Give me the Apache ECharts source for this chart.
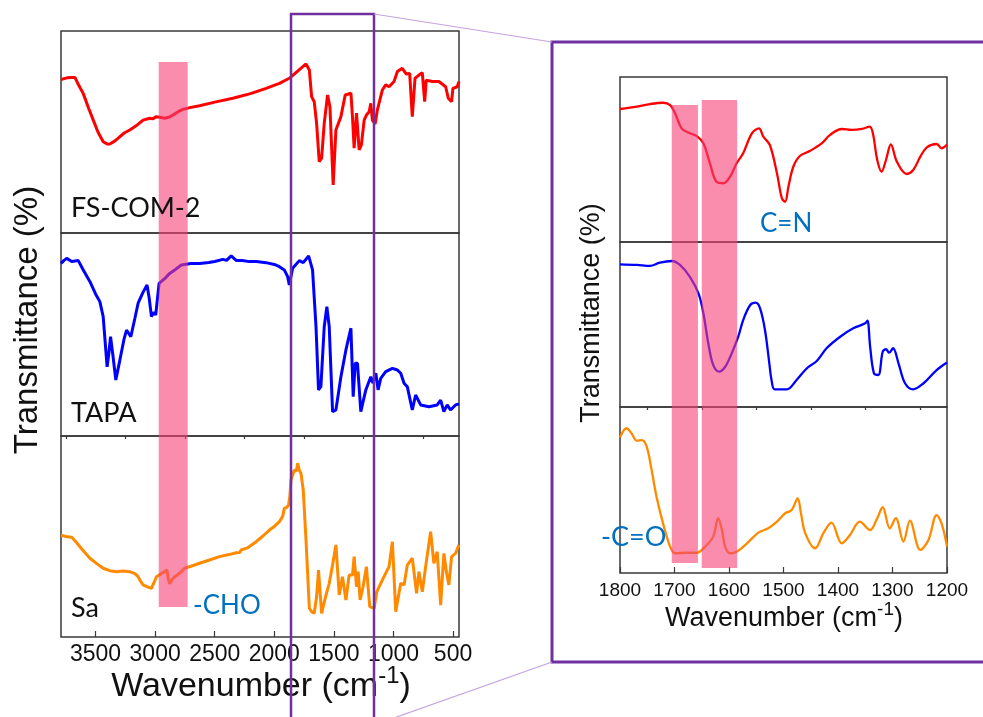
<!DOCTYPE html>
<html>
<head>
<meta charset="utf-8">
<script src="https://cdn.jsdelivr.net/npm/echarts@6/dist/echarts.min.js"></script>
<style>
html, body { margin: 0; padding: 0; background: #fff; }
#chart { width: 983px; height: 717px; }
</style>
</head>
<body>
<div id="chart"></div>
<script>
// FTIR spectra: [wavenumber (cm-1), relative transmittance] per sample
const fsCom2Full = [[3790,76],[3740,76.8],[3700,77],[3673,77],[3640,73],[3603,69],[3560,62],[3520,56],[3480,50],[3436,45.2],[3400,44],[3380,44.1],[3340,45.5],[3310,47],[3260,49.5],[3213,51],[3150,53.5],[3101,55.9],[3045,56.8],[3020,56.5],[2989,57.6],[2950,57.2],[2920,56.8],[2880,57.4],[2850,58.4],[2800,60.3],[2767,61.2],[2700,62.2],[2627,63],[2500,64.8],[2348,66.7],[2200,69],[2069,71.6],[1957,74.1],[1874,76.6],[1734,83.7],[1706,80.7],[1687,67.5],[1665,65],[1645,54.3],[1623,35.3],[1603,37],[1581,54.3],[1553,68.3],[1533,62.5],[1506,23.8],[1483,51],[1441,57.6],[1405,68.3],[1357,69.2],[1344,57.6],[1330,42],[1310,59.3],[1288,41.1],[1269,43.6],[1246,55.9],[1227,58.4],[1204,60],[1190,64.2],[1177,55.9],[1154,54],[1135,60.9],[1093,70.8],[1065,73.3],[1037,72.4],[995,75],[967,79.9],[926,81.5],[892,78.7],[864,79],[842,57.6],[819,76.6],[786,78.2],[758,79.4],[738,65],[725,75.7],[675,75],[619,75],[562,72.4],[540,66.7],[512,65],[501,71.6],[465,72.4],[450,75]];

const tapaFull = [[3790,85],[3765,86.5],[3742,87.5],[3700,86],[3645,86.4],[3603,81.8],[3547,76],[3500,70],[3464,66.2],[3436,58.8],[3403,34.1],[3390,40],[3374,48.9],[3355,40],[3330,27.6],[3296,37.4],[3260,48],[3240,52.2],[3204,48.9],[3170,58],[3143,65.4],[3100,71],[3068,74.4],[3050,68],[3031,58.8],[3010,61],[2995,59.6],[2980,68],[2967,75.2],[2920,77.5],[2878,80.1],[2830,82],[2780,84.2],[2700,85],[2627,85],[2550,85.5],[2500,86],[2432,87],[2400,86.5],[2362,88.7],[2320,86.5],[2270,86.5],[2208,85.9],[2150,86],[2069,85.4],[2000,84.5],[1957,83.4],[1916,81.8],[1888,78.5],[1874,74.4],[1846,82.6],[1790,86.4],[1757,85.4],[1712,88.7],[1679,81.8],[1650,53.8],[1629,22.7],[1609,24.3],[1581,53.8],[1559,63.7],[1539,53.8],[1511,12],[1483,12.8],[1441,29.2],[1399,42.4],[1357,53.1],[1338,19.4],[1321,35.8],[1302,35.8],[1274,12],[1232,22.7],[1190,29.2],[1171,26],[1148,30.9],[1129,22.7],[1107,28.4],[1065,31.7],[1009,33.3],[967,32.5],[939,30.9],[911,26],[884,24.3],[842,12.8],[814,20.2],[772,15.3],[702,14.4],[633,15.3],[604,17.7],[577,12],[549,15.3],[521,12.8],[479,15.3],[450,15.8]];

const saFull = [[3790,50.7],[3750,50],[3700,49.6],[3660,47],[3631,44.9],[3590,42],[3547,39.2],[3490,36.5],[3436,34.2],[3380,33],[3324,32.5],[3270,32.8],[3213,32.5],[3170,31.5],[3143,30],[3120,27.5],[3101,25.9],[3060,24.8],[3031,24.2],[3010,27],[2989,30],[2950,31.5],[2920,32.5],[2901,33.3],[2890,29],[2878,26.4],[2860,28.5],[2836,30],[2810,31],[2780,32.5],[2752,34.2],[2700,35.2],[2627,36.7],[2550,38.2],[2460,40],[2380,41],[2320,41.9],[2290,42],[2278,43.3],[2220,44.5],[2152,47.4],[2100,50],[2041,53.2],[2000,55],[1957,57.4],[1930,60],[1916,64],[1895,64.5],[1880,65.7],[1870,70],[1860,78.1],[1832,83.1],[1815,82.5],[1804,86.4],[1790,83],[1776,81.4],[1757,73.1],[1734,48.3],[1706,14.3],[1685,12.5],[1665,11.8],[1645,20],[1629,33.3],[1603,11.8],[1570,20],[1539,26.7],[1511,35.8],[1483,45.8],[1455,20.9],[1428,30],[1399,18.4],[1372,30.8],[1344,30.8],[1330,40],[1310,25],[1296,32.5],[1280,18.4],[1255,25],[1227,35],[1199,15.1],[1162,14.3],[1140,22.5],[1093,28.4],[1037,35],[1009,47.4],[981,12.6],[939,26.7],[911,25.9],[884,35.8],[842,39.2],[828,32.5],[806,21.7],[786,32.5],[758,22.5],[730,35],[688,52.4],[661,36.7],[633,42.4],[604,15.9],[577,41.6],[554,31.7],[535,25.9],[512,40],[479,41.6],[450,45.8]];

// Expanded 1800-1200 cm-1 region
const fsCom2Zoom = [[1800,80.6],[1769,82],[1745,83.6],[1721,84.4],[1708,83],[1699,78],[1687,68.9],[1672,65.9],[1659,64.2],[1647,59.8],[1635,47.7],[1623,36.5],[1610,35.6],[1598,39.6],[1586,47.7],[1574,53.8],[1558,65.9],[1545,68.9],[1537,63.8],[1525,58.8],[1512,41.6],[1503,26.5],[1497,24.4],[1491,33.5],[1482,45.6],[1470,52.1],[1451,55.3],[1430,59.8],[1415,64.8],[1393,68.5],[1375,67.9],[1356,68.5],[1342,69.9],[1336,65.9],[1328,49.7],[1320,42.6],[1312,49.7],[1303,59.2],[1292,48.7],[1274,41.2],[1262,43.6],[1249,51.7],[1237,57.4],[1219,59.4],[1210,56.8],[1200,59]];

const tapaZoom = [[1800,86.5],[1769,86.1],[1745,85.5],[1727,87.5],[1705,88.5],[1690,86.1],[1672,79],[1656,68.9],[1647,56.8],[1638,38.6],[1629,25.5],[1618,21.4],[1607,24.4],[1595,32.5],[1583,42.6],[1574,52.7],[1561,61.8],[1551,63.2],[1543,59.8],[1534,46.7],[1526,26.5],[1522,16.4],[1516,10.7],[1494,10.7],[1476,16.4],[1457,23.5],[1439,27.9],[1421,35.6],[1396,42.6],[1372,47.7],[1350,50.7],[1346,52.3],[1341,36.5],[1334,20.4],[1326,19.4],[1318,33.5],[1312,35],[1306,32.9],[1299,35.6],[1289,26.5],[1277,14.4],[1262,10.7],[1243,14.4],[1219,22.4],[1200,27]];

const saZoom = [[1800,81.7],[1788,87.2],[1779,84.2],[1769,79.7],[1760,80.1],[1751,76.1],[1742,62],[1733,46],[1721,29.9],[1708,15.8],[1699,11.9],[1678,12.2],[1659,12.2],[1644,15.8],[1629,21.9],[1620,33],[1613,25.9],[1607,15.8],[1598,11.9],[1586,12.8],[1567,17.9],[1546,24.3],[1528,26.9],[1512,30.9],[1497,36],[1485,38],[1474,45],[1468,36],[1460,23.9],[1442,14.9],[1427,23.9],[1412,30.3],[1393,17.9],[1378,22.9],[1360,30.9],[1341,25.9],[1329,32.3],[1318,39.6],[1305,26.9],[1294,33],[1280,18.9],[1268,31.5],[1249,13.9],[1234,19.9],[1219,34.9],[1210,29.9],[1200,16]];

// Tick positions
const fullMajorTicks = [3500, 3000, 2500, 2000, 1500, 1000, 500];
const fullMinorTicks = [3750, 3250, 2750, 2250, 1750, 1250, 750];
const zoomMinorTicks = [1750, 1650, 1550, 1450, 1350, 1250];

// Highlighted absorption bands [from, to] in cm-1
const choBand = [2970, 2727];
const coBand = [1705, 1657];
const cnBand = [1650, 1585];

const sampleNames = ['FS-COM-2', 'TAPA', 'Sa'];
const colors = ['#ff0000', '#0000ff', '#ff8a00'];

const chart = echarts.init(document.getElementById('chart'));

const AXIS_FONT = 'Liberation Sans, Arial, sans-serif';
const LABEL_FONT = 'Lato, Open Sans, sans-serif';
const FRAME = '#3a3a3a';
const plain = v => String(v);

const leftGrids = [
  { left: 61, top: 31, width: 398, height: 202 },
  { left: 61, top: 233, width: 398, height: 203 },
  { left: 61, top: 436, width: 398, height: 201 }
];
const rightGrids = [
  { left: 620, top: 77, width: 327, height: 165 },
  { left: 620, top: 242, width: 327, height: 165 },
  { left: 620, top: 407, width: 327, height: 166 }
];
const grids = leftGrids.concat(rightGrids).map(g => Object.assign({
  show: true, borderColor: FRAME, borderWidth: 1.5, backgroundColor: 'transparent', containLabel: false
}, g));

function fullX(i, bottom) {
  return {
    type: 'value', gridIndex: i, inverse: true, min: 450, max: 3790,
    axisLine: { show: false }, splitLine: { show: false },
    axisTick: { show: bottom, inside: true, length: 6, customValues: fullMajorTicks, lineStyle: { color: FRAME, width: 1.2 } },
    axisLabel: { show: bottom, customValues: fullMajorTicks, formatter: plain, fontSize: 23, fontFamily: AXIS_FONT, color: '#111', margin: 6 }
  };
}
function zoomX(i, bottom) {
  return {
    type: 'value', gridIndex: i, inverse: true, min: 1200, max: 1800, interval: 100,
    axisLine: { show: false }, splitLine: { show: false },
    axisTick: { show: bottom, inside: true, length: 6, lineStyle: { color: FRAME, width: 1.2 } },
    axisLabel: { show: bottom, formatter: plain, fontSize: 19, fontFamily: AXIS_FONT, color: '#111', margin: 8 }
  };
}

const xAxes = [
  fullX(0, false), fullX(1, false), fullX(2, true),
  zoomX(3, false), zoomX(4, false), zoomX(5, true),
  {
    type: 'value', gridIndex: 2, inverse: true, min: 450, max: 3790,
    axisLine: { show: false }, splitLine: { show: false }, axisLabel: { show: false },
    axisTick: { show: true, inside: true, length: 3, customValues: fullMinorTicks, lineStyle: { color: FRAME, width: 1.2 } }
  },
  {
    type: 'value', gridIndex: 5, inverse: true, min: 1200, max: 1800,
    axisLine: { show: false }, splitLine: { show: false }, axisLabel: { show: false },
    axisTick: { show: true, inside: true, length: 3, customValues: zoomMinorTicks, lineStyle: { color: FRAME, width: 1.2 } }
  }
];
const yAxes = [0, 1, 2, 3, 4, 5].map(i => ({
  type: 'value', gridIndex: i, min: 0, max: 100, show: false
}));

const spectra = [fsCom2Full, tapaFull, saFull, fsCom2Zoom, tapaZoom, saZoom];
const series = spectra.map((d, i) => ({
  type: 'line',
  name: sampleNames[i % 3],
  xAxisIndex: i, yAxisIndex: i,
  data: d,
  showSymbol: false,
  smooth: i >= 3 ? 0.35 : false,
  lineStyle: { color: colors[i % 3], width: i >= 3 ? 2.3 : 3 },
  itemStyle: { color: colors[i % 3] },
  animation: false,
  z: 2
}));

chart.setOption({
  animation: false,
  grid: grids,
  xAxis: xAxes,
  yAxis: yAxes,
  series: series
});

// Shaded bands spanning the stacked panels
function bandRect(topSeries, botSeries, band, topVal, botVal) {
  const a = chart.convertToPixel({ seriesIndex: topSeries }, [band[0], topVal]);
  const b = chart.convertToPixel({ seriesIndex: botSeries }, [band[1], botVal]);
  return {
    type: 'rect', z: 50, silent: true,
    shape: { x: a[0], y: a[1], width: b[0] - a[0], height: b[1] - a[1] },
    style: { fill: 'rgba(247,64,120,0.6)' }
  };
}

function label(text, x, y, size, color) {
  return {
    type: 'text', z: 60, silent: true, x: x, y: y,
    style: { text: text, fontSize: size, fontFamily: LABEL_FONT, fill: color, textVerticalAlign: 'middle' }
  };
}

const PURPLE = '#7030a0';
const graphics = [
  bandRect(0, 2, choBand, 84.7, 14.9),
  bandRect(3, 5, coBand, 83, 6),
  bandRect(3, 5, cnBand, 86, 3),
  label('FS-COM-2', 71, 208, 27, '#111'),
  label('TAPA', 71, 413, 27, '#111'),
  label('Sa', 71, 608, 27, '#111'),
  label('-CHO', 193, 606, 26, '#0070c0'),
  label('C=N', 760, 224, 26, '#0070c0'),
  label('-C=O', 601, 537, 27, '#0070c0'),
  {
    type: 'text', z: 60, silent: true, x: 28, y: 320, rotation: Math.PI / 2,
    style: { text: 'Transmittance (%)', fontSize: 33, fontFamily: AXIS_FONT, fill: '#111', textAlign: 'center', textVerticalAlign: 'middle' }
  },
  {
    type: 'text', z: 60, silent: true, x: 592, y: 313, rotation: Math.PI / 2,
    style: { text: 'Transmittance (%)', fontSize: 27, fontFamily: AXIS_FONT, fill: '#111', textAlign: 'center', textVerticalAlign: 'middle' }
  },
  {
    type: 'text', z: 60, silent: true, x: 261, y: 684,
    style: {
      text: '{a|Wavenumber (cm}{s|-1}{a|)}', textAlign: 'center', textVerticalAlign: 'middle',
      rich: {
        a: { fontSize: 34, fontFamily: AXIS_FONT, fill: '#111', color: '#111', lineHeight: 40, verticalAlign: 'bottom' },
        s: { fontSize: 24, fontFamily: AXIS_FONT, fill: '#111', color: '#111', lineHeight: 40, verticalAlign: 'top' }
      }
    }
  },
  {
    type: 'text', z: 60, silent: true, x: 784, y: 616,
    style: {
      text: '{a|Wavenumber (cm}{s|-1}{a|)}', textAlign: 'center', textVerticalAlign: 'middle',
      rich: {
        a: { fontSize: 27, fontFamily: AXIS_FONT, fill: '#111', color: '#111', lineHeight: 32, verticalAlign: 'bottom' },
        s: { fontSize: 19, fontFamily: AXIS_FONT, fill: '#111', color: '#111', lineHeight: 32, verticalAlign: 'top' }
      }
    }
  },
  // Zoom-region outline on the full spectrum and the inset frame
  {
    type: 'rect', z: 70, silent: true,
    shape: { x: 291, y: 14, width: 83, height: 720 },
    style: { fill: null, stroke: PURPLE, lineWidth: 2.5 }
  },
  {
    type: 'rect', z: 70, silent: true,
    shape: { x: 552, y: 42, width: 460, height: 620 },
    style: { fill: null, stroke: PURPLE, lineWidth: 3 }
  },
  {
    type: 'line', z: 70, silent: true,
    shape: { x1: 374, y1: 14, x2: 552, y2: 42 },
    style: { stroke: '#c4a3df', lineWidth: 1.2 }
  },
  {
    type: 'line', z: 70, silent: true,
    shape: { x1: 374, y1: 725, x2: 552, y2: 662 },
    style: { stroke: '#c4a3df', lineWidth: 1.2 }
  }
];

chart.setOption({ graphic: graphics });
</script>
</body>
</html>
